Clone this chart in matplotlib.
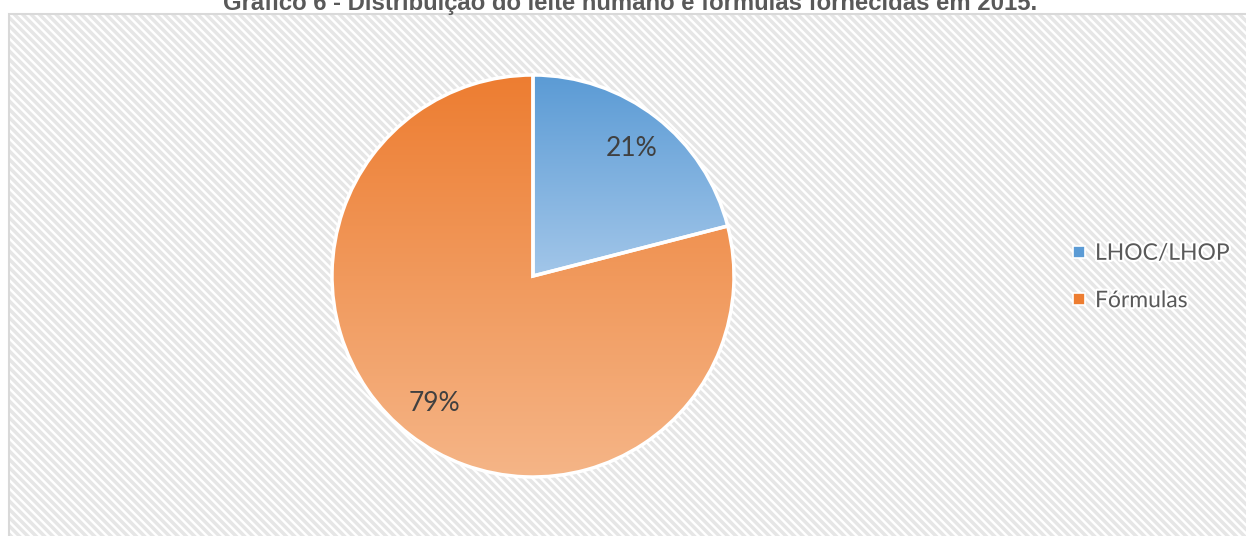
import matplotlib
matplotlib.use('Agg')
import matplotlib.pyplot as plt
import matplotlib.patheffects as pe
import numpy as np
from matplotlib.colors import LinearSegmentedColormap
from matplotlib.patches import Rectangle
from matplotlib.lines import Line2D

labels = ['LHOC/LHOP', 'Fórmulas']
values = [21, 79]
title = 'Gráfico 6 - Distribuição do leite humano e fórmulas fornecidas em 2015.'
top_colors = ['#5B9BD5', '#ED7D31']
bottom_colors = ['#A2C6E9', '#F5B587']

W, H = 1246, 536
plt.rcParams['hatch.linewidth'] = 2.5
plt.rcParams['hatch.color'] = '#E6E6E6'
fig = plt.figure(figsize=(W / 100, H / 100), dpi=100)

ax = fig.add_axes([0, 0, 1, 1])
ax.set_xlim(0, W)
ax.set_ylim(0, H)
ax.axis('off')

# background with diagonal hatch
ax.add_patch(Rectangle((8.5, -10), W, H - 13.5 + 10, facecolor='white',
                       edgecolor='#E6E6E6', lw=0, hatch='\\\\\\\\', zorder=0))
ax.add_patch(Rectangle((8.5, -10), W, H - 13.5 + 10, fill=False,
                       edgecolor='#D9D9D9', lw=1.5, zorder=0.1))

halo = [pe.withStroke(linewidth=3, foreground='white')]
wedges, texts, autotexts = ax.pie(values, startangle=90, counterclock=False,
                                  center=(533, H - 276), radius=201,
                                  autopct='%.0f%%', pctdistance=0.8,
                                  wedgeprops=dict(edgecolor='white', linewidth=2.5),
                                  textprops=dict(fontsize=19, color='#404040',
                                                 family=['Lato', 'DejaVu Sans']),
                                  frame=True)
for w, c0, c1 in zip(wedges, top_colors, bottom_colors):
    bb = w.get_path().get_extents()
    cmap = LinearSegmentedColormap.from_list('g', [c1, c0])
    grad = np.linspace(0, 1, 256).reshape(-1, 1)
    im = ax.imshow(grad, cmap=cmap, origin='lower', aspect='auto',
                   extent=[bb.x0, bb.x1, bb.y0, bb.y1], zorder=1)
    im.set_clip_path(w)
    w.set_facecolor('none')
    w.set_zorder(2)
for t in autotexts:
    t.set_zorder(3)
ax.set_xlim(0, W)
ax.set_ylim(0, H)
ax.set_aspect('auto')
ax.axis('off')

handles = [Line2D([], [], marker='s', linestyle='none', markersize=8,
                  markerfacecolor=c, markeredgecolor='white', markeredgewidth=1.2)
           for c in top_colors]
leg = ax.legend(handles, labels, loc='center left',
                bbox_to_anchor=(1048 / W, 1 - 277 / H), frameon=False,
                prop=dict(family=['Lato', 'DejaVu Sans'], size=16.5),
                labelcolor='#595959', handlelength=0.7, handletextpad=0.35,
                labelspacing=1.15, borderpad=0.5)
for t in leg.get_texts():
    t.set_path_effects(halo)

fig.text(630 / W, 1 - 10 / H, title, ha='center', va='baseline',
         fontsize=17.2, fontweight='bold', color='#595959',
         family=['Liberation Sans Narrow', 'Liberation Sans', 'DejaVu Sans'])

fig.savefig('out.png', dpi=100)
